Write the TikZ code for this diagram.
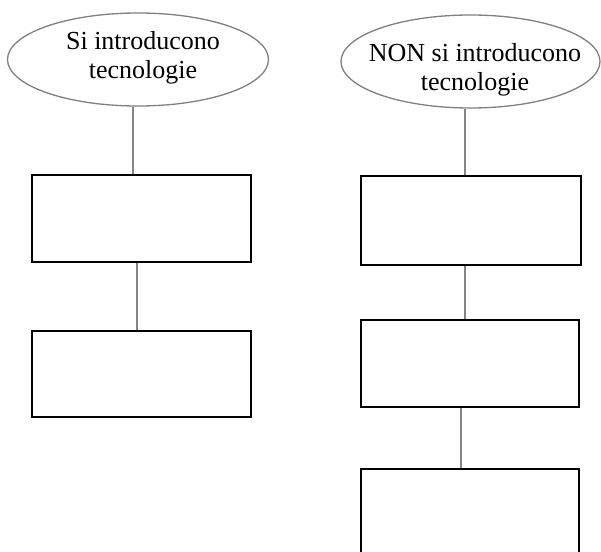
\documentclass[tikz,border=0pt]{standalone}
\usepackage{fontspec}
\setmainfont{Liberation Serif}
\usetikzlibrary{shapes.geometric}

\begin{document}
\begin{tikzpicture}[x=1pt,y=-1pt,
  oval/.style={draw=black!50, line width=1.3pt, ellipse, inner sep=0pt},
  caption/.style={align=center, inner sep=0pt, font=\fontsize{26}{29}\selectfont},
  panel/.style={draw=black, line width=1.1pt, inner sep=0pt},
  link/.style={draw=black!48, line width=1.3pt}]

  % page frame (also cuts off the lowest box)
  \clip (0,0) rectangle (601,551);
  \fill[white] (0,0) rectangle (601,551);

  % left branch
  \node[oval, minimum width=261, minimum height=93] (le) at (138,59.5) {};
  \node[caption] (lt) at (143,57.5) {Si introducono\\tecnologie};
  \node[panel, minimum width=219, minimum height=87] (lr1) at (141.5,218.5) {};
  \node[panel, minimum width=219, minimum height=86] (lr2) at (141.5,374) {};

  % right branch
  \node[oval, minimum width=259, minimum height=93] (re) at (470.5,61.5) {};
  \node[caption] (rt) at (475,70) {NON si introducono\\tecnologie};
  \node[panel, line width=1.8pt, minimum width=220, minimum height=89] (rr1) at (471,220.5) {};
  \node[panel, minimum width=218, minimum height=87] (rr2) at (470,363.5) {};
  \node[panel, minimum width=218, minimum height=91] (rr3) at (470,514.5) {};

  % connectors
  \draw[link] ([xshift=-8.5pt]lr1.north) -- ([xshift=-8.5pt]lr1.north |- le.south);
  \draw[link] ([xshift=-4.5pt]lr1.south) -- ([xshift=-4.5pt]lr2.north);
  \draw[link] ([xshift=-6pt]rr1.north) -- ([xshift=-6pt]rr1.north |- re.south);
  \draw[link] ([xshift=-6pt]rr1.south) -- ([xshift=-5pt]rr2.north);
  \draw[link] ([xshift=-9pt]rr2.south) -- ([xshift=-9pt]rr3.north);
\end{tikzpicture}
\end{document}
